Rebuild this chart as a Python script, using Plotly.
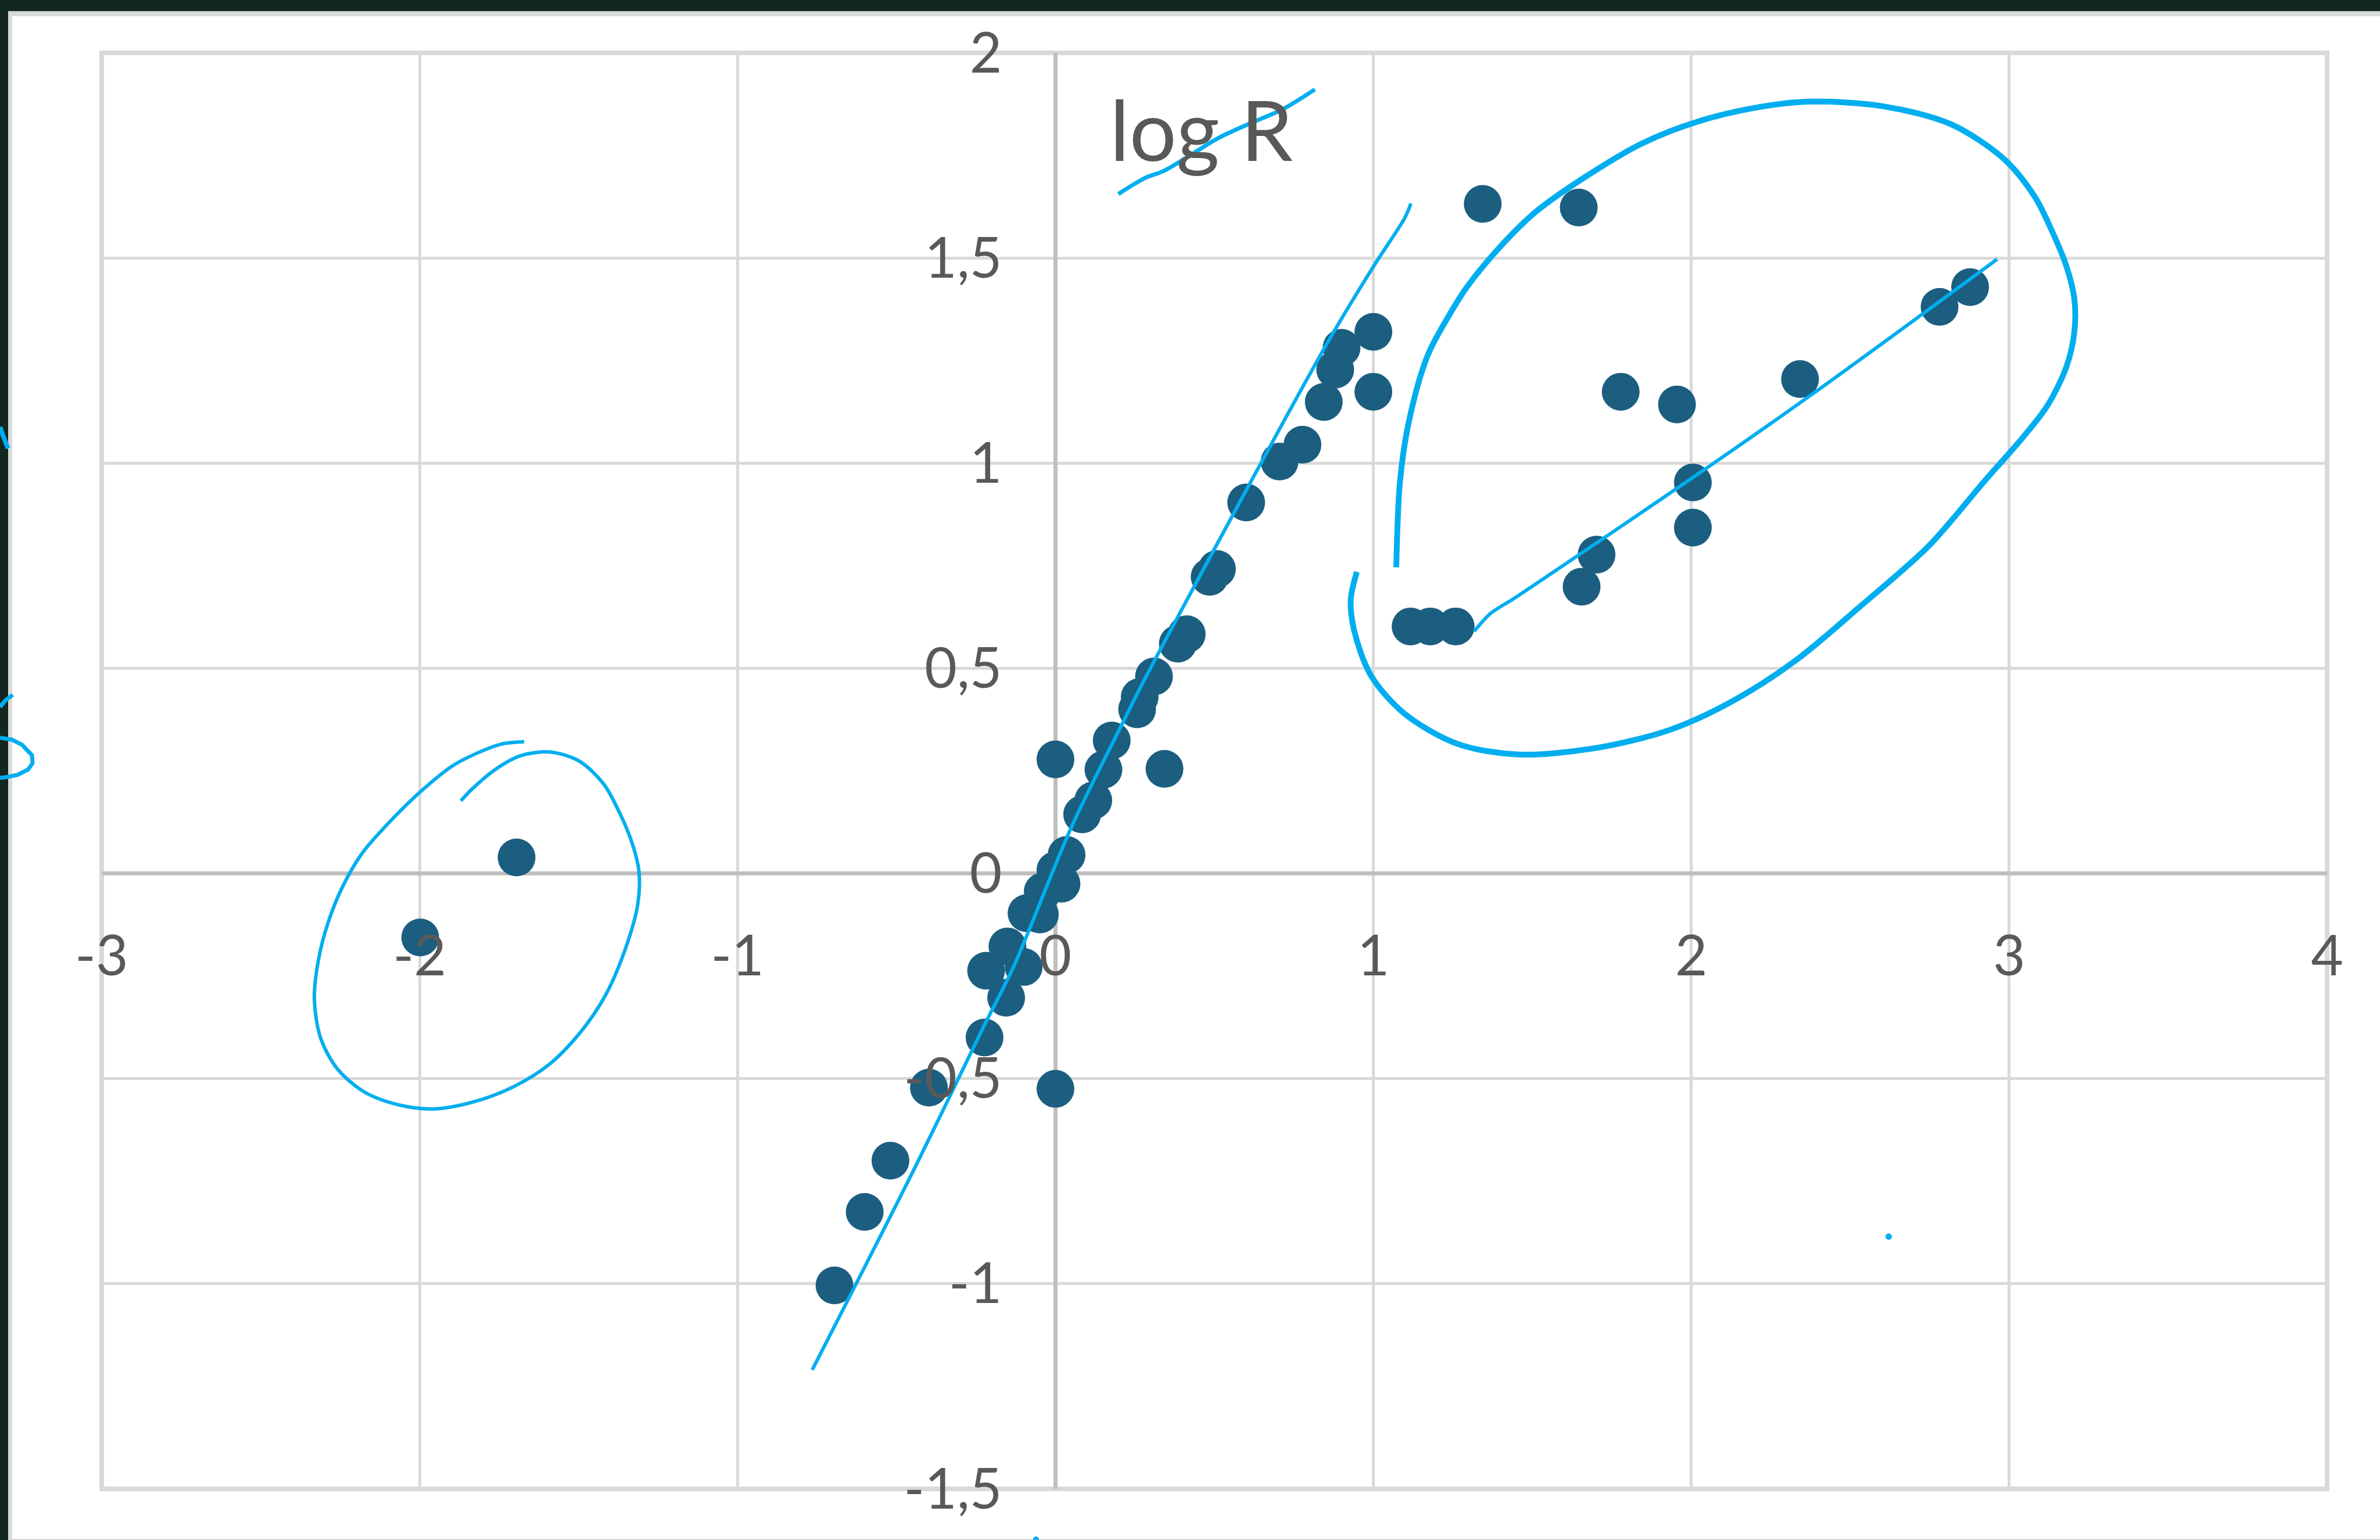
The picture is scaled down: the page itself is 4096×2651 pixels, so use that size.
import plotly.graph_objects as go

# ---------------- data ----------------
pts_x = [-1.695, -1.998,
         -0.695, -0.600, -0.519, -0.398, 0.000, -0.223, -0.155, -0.218, -0.100,
         -0.151, -0.091, -0.049, -0.040, 0.000, 0.019, 0.035, 0.084, 0.119,
         0.151, 0.177, 0.000, 0.343, 0.257, 0.265, 0.310, 0.385, 0.413,
         0.485, 0.508, 0.600, 0.705, 0.777, 0.844, 0.880, 0.900, 1.000, 1.000,
         1.344, 1.646, 1.778, 1.955, 2.342, 2.781, 2.877, 2.005, 2.005,
         1.702, 1.655, 1.117, 1.179, 1.259]
pts_y = [0.039, -0.156,
         -1.004, -0.825, -0.700, -0.522, -0.525, -0.400, -0.303, -0.237, -0.228,
         -0.178, -0.097, -0.100, -0.044, 0.008, -0.025, 0.045, 0.144, 0.178,
         0.253, 0.324, 0.278, 0.255, 0.400, 0.430, 0.480, 0.560, 0.583,
         0.723, 0.742, 0.904, 1.004, 1.045, 1.149, 1.228, 1.281, 1.320, 1.174,
         1.632, 1.623, 1.174, 1.143, 1.205, 1.381, 1.429, 0.953, 0.843,
         0.777, 0.699, 0.602, 0.602, 0.602]

x_tickvals = [-3, -2, -1, 0, 1, 2, 3, 4]
x_ticktext = ["-3", "-2", "-1", "0", "1", "2", "3", "4"]
y_tickvals = [-1.5, -1, -0.5, 0, 0.5, 1, 1.5, 2]
y_ticktext = ["-1,5", "-1", "-0,5", "0", "0,5", "1", "1,5", "2"]

title_text = "log R"

# hand-drawn annotation strokes (data units)
steep_x = [-0.765, -0.437, -0.227, -0.132, 0.052, 0.213, 0.271, 0.859, 1.005, 1.099, 1.118]
steep_y = [-1.210, -0.709, -0.375, -0.228, 0.116, 0.369, 0.459, 1.298, 1.485, 1.598, 1.633]

flat_x = [1.317, 1.369, 1.440, 1.544, 2.009, 2.380, 2.962]
flat_y = [0.590, 0.634, 0.669, 0.723, 0.967, 1.168, 1.497]

big_loop_x = [1.072, 1.084, 1.113, 1.171, 1.244, 1.295, 1.397, 1.513, 1.673, 1.847, 2.022,
              2.200, 2.363, 2.602, 2.817, 2.984, 3.080, 3.135, 3.180, 3.205, 3.205, 3.180,
              3.120, 3.040, 2.923, 2.748, 2.530, 2.330, 2.130, 1.933, 1.694, 1.455, 1.264,
              1.097, 0.992, 0.939, 0.929, 0.948]
big_loop_y = [0.746, 0.957, 1.106, 1.263, 1.368, 1.430, 1.526, 1.614, 1.701, 1.780, 1.833,
              1.866, 1.881, 1.870, 1.826, 1.741, 1.650, 1.565, 1.480, 1.400, 1.320, 1.235,
              1.140, 1.060, 0.957, 0.799, 0.650, 0.520, 0.420, 0.350, 0.305, 0.290, 0.316,
              0.390, 0.483, 0.594, 0.668, 0.735]

small_loop_x = [-1.671, -1.744, -1.820, -1.897, -1.989, -2.089, -2.181, -2.242, -2.288,
                -2.319, -2.331, -2.311, -2.258, -2.173, -2.066, -1.958, -1.836, -1.705,
                -1.590, -1.490, -1.414, -1.352, -1.314, -1.310, -1.329, -1.368, -1.421,
                -1.498, -1.590, -1.682, -1.759, -1.836, -1.870]
small_loop_y = [0.321, 0.315, 0.293, 0.262, 0.205, 0.130, 0.049, -0.032, -0.120,
                -0.214, -0.308, -0.402, -0.477, -0.533, -0.564, -0.574, -0.558, -0.520,
                -0.464, -0.383, -0.295, -0.182, -0.076, 0.005, 0.068, 0.143, 0.218,
                0.274, 0.296, 0.287, 0.255, 0.205, 0.177]

strike_x = [0.198, 0.282, 0.340, 0.427, 0.514, 0.609, 0.718, 0.816]
strike_y = [1.656, 1.695, 1.712, 1.752, 1.793, 1.827, 1.864, 1.911]

stray_dot_x = [2.621]
stray_dot_y = [-0.885]

# ---------------- styling ----------------
W, H = 4096, 2651
ML, MR, MT, MB = 175, 91, 91, 88
PW, PH = W - ML - MR, H - MT - MB

DOT = "#1b5e80"
INK = "#00aeef"
TXT = "#595959"
FONT = "Lato, 'Open Sans', sans-serif"


def px2x(px):
    return (px - ML) / PW


def py2y(py):
    return (H - MB - py) / PH


fig = go.Figure()

fig.add_trace(go.Scatter(x=pts_x, y=pts_y, mode="markers",
                         marker=dict(size=65, color=DOT, line=dict(width=0)),
                         hoverinfo="skip", showlegend=False))

for sx, sy, w in [(steep_x, steep_y, 6), (flat_x, flat_y, 6),
                  (big_loop_x, big_loop_y, 10), (small_loop_x, small_loop_y, 6),
                  (strike_x, strike_y, 7)]:
    fig.add_trace(go.Scatter(x=sx, y=sy, mode="lines",
                             line=dict(color=INK, width=w, shape="spline", smoothing=0.9),
                             hoverinfo="skip", showlegend=False))

fig.add_trace(go.Scatter(x=stray_dot_x, y=stray_dot_y, mode="markers",
                         marker=dict(size=11, color=INK), hoverinfo="skip", showlegend=False))

fig.add_annotation(x=0.168, y=1.815, xref="x", yref="y", text=title_text, showarrow=False,
                   xanchor="left", yanchor="middle",
                   font=dict(family=FONT, size=143, color=TXT))

shapes = []
# plot frame
shapes.append(dict(type="rect", xref="paper", yref="paper", x0=0, x1=1, y0=0, y1=1,
                   line=dict(color="#d9d9d9", width=8), layer="below"))


def rect(x0, x1, y0, y1, color):
    return dict(type="rect", xref="paper", yref="paper",
                x0=px2x(x0), x1=px2x(x1), y0=py2y(y1), y1=py2y(y0),
                fillcolor=color, line=dict(width=0), layer="above")


# screenshot dark edges and card border
shapes.append(rect(0, W, 0, 19.5, "#13261f"))
shapes.append(rect(0, 14, 0, H, "#13261f"))
shapes.append(rect(14, W, 19.5, 28, "#d8dbd9"))
shapes.append(rect(14, 21, 19.5, H, "#d8dbd9"))
shapes.append(rect(14, W, H - 2, H, "#d9d9d9"))


def path(points):
    s = ""
    for i, (px, py) in enumerate(points):
        s += ("M" if i == 0 else "L") + f" {px2x(px):.5f},{py2y(py):.5f} "
    return s


for pts, w in [([(0, 735), (6, 752), (14, 772)], 8),
               ([(22, 1196), (10, 1205), (0, 1217)], 7),
               ([(0, 1270), (20, 1273), (38, 1282), (55, 1300), (56, 1314), (48, 1325),
                 (30, 1334), (10, 1338), (0, 1339)], 7)]:
    shapes.append(dict(type="path", xref="paper", yref="paper", path=path(pts),
                       line=dict(color=INK, width=w), layer="above"))

shapes.append(dict(type="circle", xref="paper", yref="paper",
                   x0=px2x(1778), x1=px2x(1788), y0=py2y(2655), y1=py2y(2645),
                   fillcolor=INK, line=dict(width=0), layer="above"))

fig.update_layout(
    width=W, height=H,
    margin=dict(l=ML, r=MR, t=MT, b=MB),
    paper_bgcolor="white", plot_bgcolor="white",
    shapes=shapes,
    showlegend=False,
    xaxis=dict(range=[-3, 4], tickvals=x_tickvals, ticktext=x_ticktext,
               showgrid=True, gridcolor="#d9d9d9", gridwidth=5,
               zeroline=True, zerolinecolor="#bfbfbf", zerolinewidth=7,
               showline=False, ticks="", anchor="free", position=3 / 7,
               ticklabelstandoff=78,
               tickfont=dict(family=FONT, size=96, color=TXT)),
    yaxis=dict(range=[-1.5, 2], tickvals=y_tickvals, ticktext=y_ticktext,
               showgrid=True, gridcolor="#d9d9d9", gridwidth=5,
               zeroline=True, zerolinecolor="#bfbfbf", zerolinewidth=7,
               showline=False, ticks="", anchor="free", position=3 / 7,
               ticklabelstandoff=92,
               tickfont=dict(family=FONT, size=96, color=TXT)),
)

fig.write_html("out.html", config={"displayModeBar": False},
               post_script="document.body.style.margin='0';document.body.style.overflow='hidden';")
